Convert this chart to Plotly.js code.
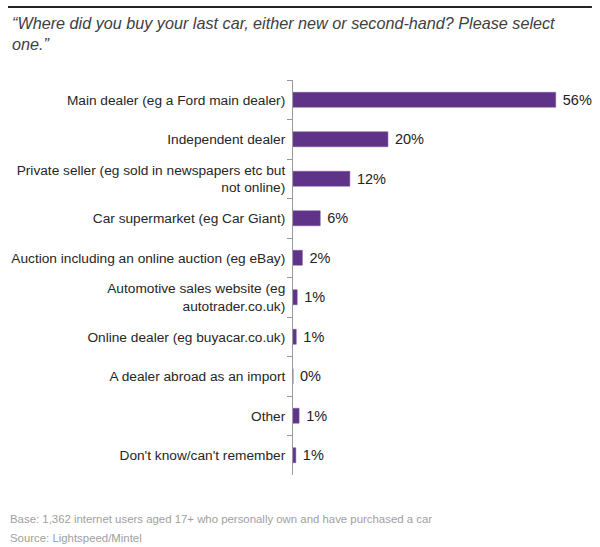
<!DOCTYPE html>
<html>
<head>
<meta charset="utf-8">
<script src="https://cdn.plot.ly/plotly-3.0.1.min.js"></script>
<style>
html,body{margin:0;padding:0;background:#fff;}
#chart{width:600px;height:547px;}
</style>
</head>
<body>
<div id="chart"></div>
<script>
const categories = [
  "Main dealer (eg a Ford main dealer)",
  "Independent dealer",
  "Private seller (eg sold in newspapers etc but<br>not online)",
  "Car supermarket (eg Car Giant)",
  "Auction including an online auction (eg eBay)",
  "Automotive sales website (eg<br>autotrader.co.uk)",
  "Online dealer (eg buyacar.co.uk)",
  "A dealer abroad as an import",
  "Other",
  "Don't know/can't remember"
];
const values = [55.9, 20.2, 12.1, 5.8, 2.0, 0.9, 0.7, 0, 1.3, 0.6];
const valueLabels = ["56%", "20%", "12%", "6%", "2%", "1%", "1%", "0%", "1%", "1%"];

const titleText = "\u201cWhere did you buy your last car, either new or second-hand? Please select<br>one.\u201d";
const baseText = "Base: 1,362 internet users aged 17+ who personally own and have purchased a car";
const sourceText = "Source: Lightspeed/Mintel";

const trace = {
  type: "bar",
  orientation: "h",
  y: categories,
  x: values,
  text: valueLabels.map(t => " " + t),
  textposition: "outside",
  constraintext: "none",
  cliponaxis: false,
  textfont: {family: "Liberation Sans, Arial, sans-serif", size: 14.5, color: "#222"},
  marker: {color: "#5f3488", line: {color: "#7a55a0", width: 0.5}},
  width: 0.38,
  hoverinfo: "none"
};

const layout = {
  width: 600, height: 547,
  margin: {l: 293, r: 25, t: 80, b: 72},
  paper_bgcolor: "#fff", plot_bgcolor: "#fff",
  showlegend: false,
  font: {family: "Liberation Sans, Arial, sans-serif", size: 13.7, color: "#262626"},
  xaxis: {range: [0, 60], visible: false, showgrid: false, zeroline: false, fixedrange: true},
  yaxis: {
    type: "category",
    autorange: "reversed",
    showline: true, linecolor: "#9a9a9a", linewidth: 1,
    ticks: "outside", ticklen: 5, tickcolor: "#9a9a9a", tickson: "boundaries",
    showgrid: false, zeroline: false,
    ticklabelstandoff: 4,
    tickfont: {family: "Liberation Sans, Arial, sans-serif", size: 13.7, color: "#262626"}
  },
  shapes: [
    {type: "line", xref: "paper", yref: "paper", x0: -1.0106, x1: 1.060, y0: 1.1848, y1: 1.1848,
     line: {color: "#222", width: 2}}
  ],
  annotations: [
    {text: titleText, xref: "paper", yref: "paper", x: -1.004, y: 1.172, xanchor: "left", yanchor: "top",
     align: "left", showarrow: false,
     font: {family: "Liberation Sans, Arial, sans-serif", size: 16.2, color: "#404040", style: "italic"}},
    {text: baseText, xref: "paper", yref: "paper", x: -1.0106, y: -0.112, xanchor: "left", yanchor: "middle",
     showarrow: false, font: {family: "Liberation Sans, Arial, sans-serif", size: 11.4, color: "#a0a0a0"}},
    {text: sourceText, xref: "paper", yref: "paper", x: -1.0106, y: -0.160, xanchor: "left", yanchor: "middle",
     showarrow: false, font: {family: "Liberation Sans, Arial, sans-serif", size: 11.4, color: "#a0a0a0"}}
  ]
};

Plotly.newPlot("chart", [trace], layout, {displayModeBar: false, staticPlot: true});
</script>
</body>
</html>
